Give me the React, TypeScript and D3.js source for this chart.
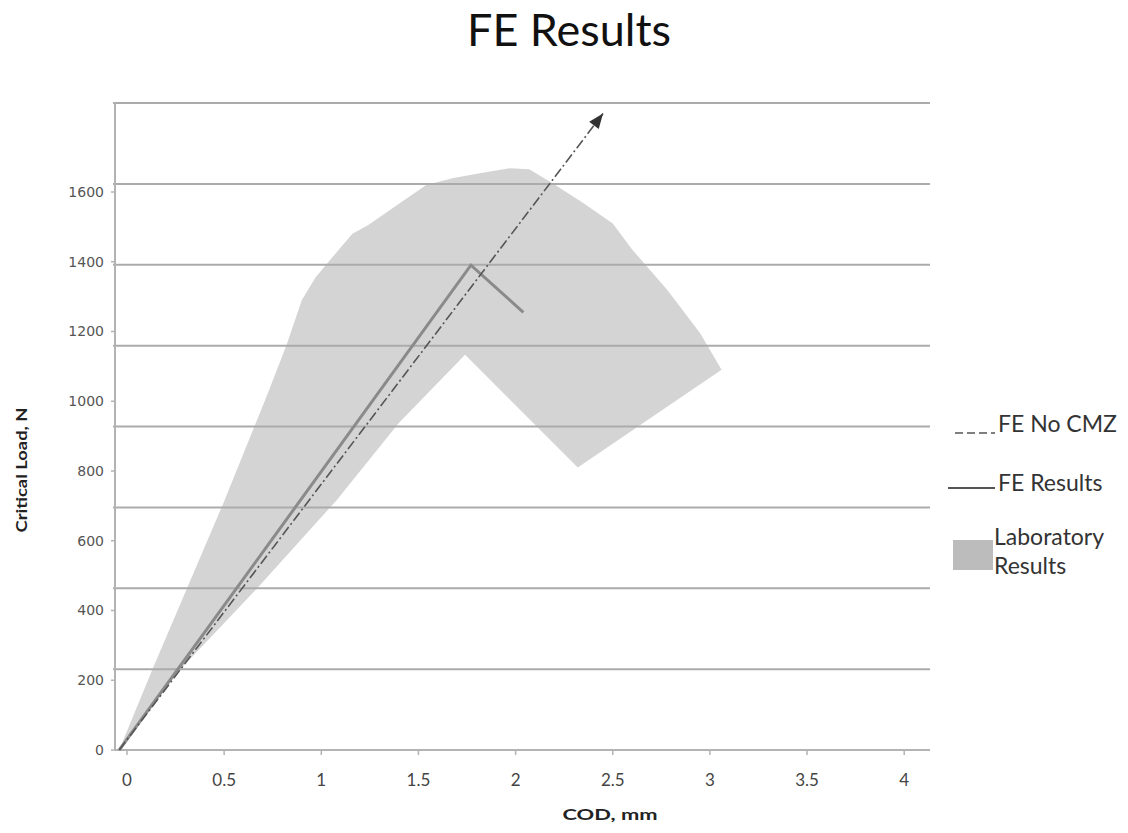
import React from 'react';
import * as d3 from 'd3';

// axis ticks
const codTicks = [0, 0.5, 1, 1.5, 2, 2.5, 3, 3.5, 4];
const loadTicks = [0, 200, 400, 600, 800, 1000, 1200, 1400, 1600];
const gridLevels = [200, 400, 600, 800, 1000, 1200, 1400, 1600];

// FE No CMZ (dash-dot arrow)
const noCmzCod = [-0.04, 2.45];
const noCmzLoad = [0, 1825];

// FE Results
const feCod = [-0.04, 1.77, 2.04];
const feLoad = [0, 1390, 1255];

// Laboratory results envelope (upper edge then lower edge back)
const labCod = [-0.04, 0.13, 0.31, 0.49, 0.73, 0.82, 0.9, 0.97, 1.03, 1.08, 1.16, 1.24, 1.37, 1.54, 1.68, 1.83, 1.97, 2.07, 2.19, 2.35, 2.5, 2.6, 2.78, 2.95, 3.06, 2.32, 1.74, 1.4, 1.08, 0.67, 0.27];
const labLoad = [0, 230, 465, 700, 1030, 1160, 1290, 1355, 1395, 1428, 1480, 1505, 1555, 1620, 1640, 1655, 1668, 1665, 1625, 1568, 1510, 1435, 1320, 1195, 1090, 810, 1133, 938, 717, 464, 229];

const W = 1128;
const H = 833;
const left = 115;
const right = 930;
const bottom = 750;
const top = 103;

function App() {
    const x = d3.scaleLinear().domain([0, 4]).range([127, 904.2]);
    const y = d3.scaleLinear().domain([0, 1600]).range([bottom, 192]);
    // horizontal rules of the plot area (spaced independently of labels)
    const grid = d3.scaleLinear().domain([0, 1600]).range([bottom, top]);

    const line = d3.line<[number, number]>()
        .x(d => x(d[0]))
        .y(d => y(d[1]));

    const labPts = labCod.map((c, i) => [c, labLoad[i]] as [number, number]);
    const fePts = feCod.map((c, i) => [c, feLoad[i]] as [number, number]);
    const cmzPts = noCmzCod.map((c, i) => [c, noCmzLoad[i]] as [number, number]);

    // arrow head direction
    const x1 = x(cmzPts[0][0]), y1 = y(cmzPts[0][1]);
    const x2 = x(cmzPts[1][0]), y2 = y(cmzPts[1][1]);
    const ang = Math.atan2(y2 - y1, x2 - x1) * 180 / Math.PI;

    const font = 'Lato, "Open Sans", sans-serif';

    return (
        <svg width={W} height={H} style={{ position: 'absolute', left: 0, top: 0, background: '#fff' }}>
            <text x={569} y={46} textAnchor="middle" fontFamily={font} fontSize={45} fill="#111"
                textLength={204} lengthAdjust="spacingAndGlyphs">
                FE Results
            </text>

            <path d={line(labPts) + 'Z'} fill="#d4d4d4" />

            {gridLevels.map(v => (
                <line key={v} x1={left - 2} x2={right} y1={grid(v)} y2={grid(v)} stroke="#ababab" strokeWidth={2} />
            ))}

            <line x1={left} x2={left} y1={top} y2={bottom} stroke="#b3b3b3" strokeWidth={2} />
            <line x1={left} x2={right} y1={bottom} y2={bottom} stroke="#b3b3b3" strokeWidth={2} />

            {loadTicks.map(v => (
                <g key={v}>
                    <line x1={left - 4} x2={left} y1={y(v)} y2={y(v)} stroke="#b3b3b3" strokeWidth={1.5} />
                    <text x={104} y={y(v)} dy="0.35em" textAnchor="end" fontFamily="DejaVu Sans, sans-serif" fontSize={14} fill="#555">
                        {v}
                    </text>
                </g>
            ))}

            {codTicks.map(v => (
                <g key={v}>
                    <line x1={x(v)} x2={x(v)} y1={bottom} y2={bottom + 5} stroke="#b3b3b3" strokeWidth={1.5} />
                    <text x={x(v)} y={786} textAnchor="middle" fontFamily={font} fontSize={17} fill="#444">
                        {v}
                    </text>
                </g>
            ))}

            <path d={line(fePts) ?? ''} fill="none" stroke="#8a8a8a" strokeWidth={3} />
            <path d={line(cmzPts) ?? ''} fill="none" stroke="#555" strokeWidth={1.6} strokeDasharray="10 3 2 3" />
            <path d="M0,0 L-15,-6 L-15,6 Z" fill="#333" transform={`translate(${x2},${y2}) rotate(${ang})`} />

            <text transform="translate(27,470) rotate(-90)" textAnchor="middle" fontFamily={font} fontWeight="bold" fontSize={16} fill="#222"
                textLength={125} lengthAdjust="spacingAndGlyphs">
                Critical Load, N
            </text>
            <text x={610} y={820} textAnchor="middle" fontFamily={font} fontWeight="bold" fontSize={15} fill="#222"
                textLength={95} lengthAdjust="spacingAndGlyphs">
                COD, mm
            </text>

            <g fontFamily={font} fontSize={23} fill="#333">
                <line x1={955} x2={995} y1={433} y2={433} stroke="#555" strokeWidth={1.5} strokeDasharray="8 4" />
                <text x={998} y={432}>FE No CMZ</text>
                <line x1={948} x2={995} y1={488} y2={488} stroke="#555" strokeWidth={2} />
                <text x={998} y={491}>FE Results</text>
                <rect x={953} y={540} width={40} height={30} fill="#bcbcbc" />
                <text x={994} y={545}>Laboratory</text>
                <text x={994} y={574}>Results</text>
            </g>
        </svg>
    );
}

export default App;
